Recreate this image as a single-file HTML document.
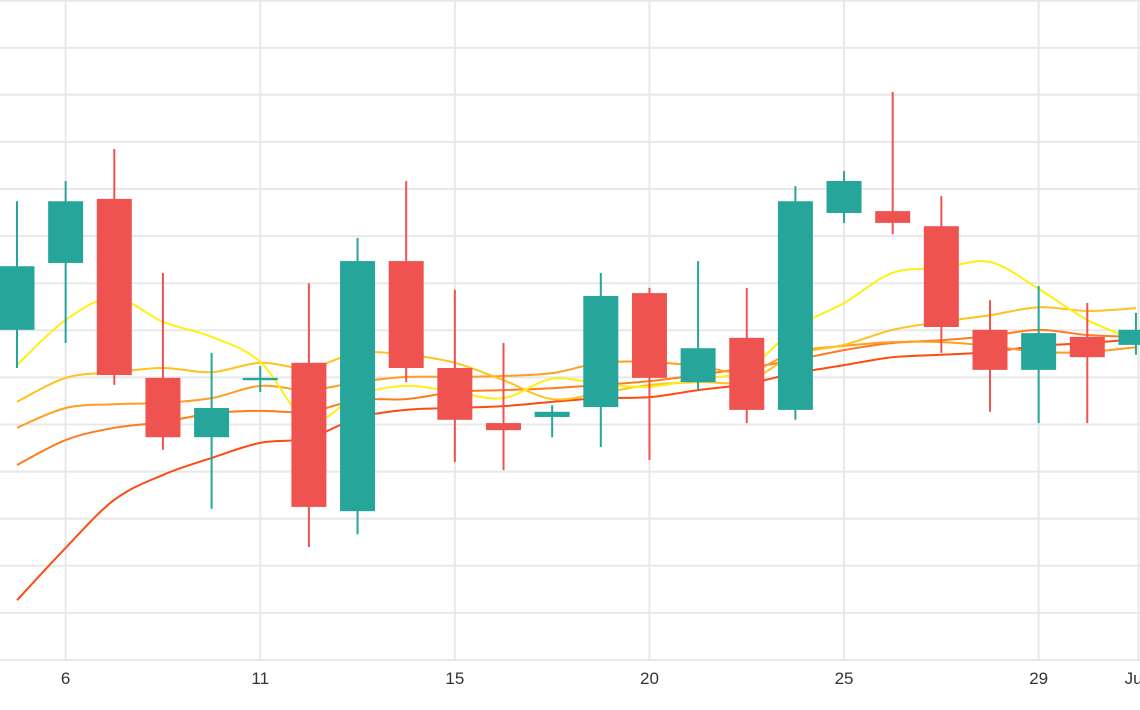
<!DOCTYPE html>
<html><head><meta charset="utf-8"><style>
html,body{margin:0;padding:0;background:#fff;overflow:hidden}
svg{display:block}
text{font-family:"Liberation Sans Narrow","Liberation Sans",sans-serif;font-size:17px;fill:#333}
</style></head><body>
<svg id="chart" width="1140" height="710" viewBox="0 0 1140 710" xmlns="http://www.w3.org/2000/svg">
<g id="grid"></g>
<g id="lines"></g>
<g id="candles"></g>
<g id="xaxis"></g>
</svg>
<script>
const opens  = [70.1,84.3,97.9,59.9,47.3,59.4,63.1,31.6,84.7,62.0,50.3,51.6,53.7,77.9,59.0,68.4,53.1,94.9,95.3,92.1,70.1,61.6,68.6,66.9];
const highs  = [97.4,101.7,108.5,82.2,65.2,62.4,80.0,89.6,101.7,78.6,67.3,54.1,82.2,79.0,84.7,79.0,100.6,103.8,120.6,98.5,76.4,79.4,75.8,73.7];
const lows   = [62.0,67.3,58.4,44.6,32.1,56.9,24.0,26.7,59.0,42.0,40.3,47.3,45.2,42.5,57.3,50.3,51.0,92.8,90.4,65.2,52.7,50.3,50.3,64.8];
const closes = [83.6,97.4,60.5,47.3,53.5,59.9,32.5,84.7,62.0,51.0,48.8,52.7,77.3,59.9,66.2,53.1,97.4,101.7,92.8,70.7,61.6,69.4,64.3,70.1];
const maYellow  = [62.6,72.2,76.9,71.8,68.6,63.3,50.6,56.2,58.2,56.9,55.6,59.7,58.6,58.0,59.7,61.6,70.5,75.8,82.2,83.2,84.5,78.8,72.2,67.9];
const maGold    = [54.8,59.9,61.1,62.0,61.1,63.1,62.0,65.2,64.8,63.1,59.4,55.4,56.7,58.4,59.0,59.2,64.8,66.9,70.1,71.8,73.2,74.9,74.1,74.7];
const maOrange  = [49.3,53.5,54.3,54.6,55.6,58.2,57.3,59.0,60.1,60.1,60.3,60.9,63.1,63.3,62.4,61.1,65.4,66.7,67.5,67.5,66.7,65.4,65.4,66.4];
const maOrange2 = [41.4,46.7,49.3,50.5,52.4,52.9,52.7,55.2,55.4,56.9,57.3,57.7,58.4,59.2,60.5,62.0,63.7,65.8,67.3,67.9,68.8,70.1,69.0,68.6];
const maRed     = [12.7,23.8,34.0,39.3,42.9,46.1,47.1,51.4,53.1,53.5,53.9,54.8,55.6,55.8,57.3,58.6,60.9,62.6,64.3,64.8,65.4,66.7,67.3,68.1];
const yTicks = [0,10,20,30,40,50,60,70,80,90,100,110,120,130,140];
const xTickLabels = ["6","11","15","20","25","29","Jun"];
const xTickIdx = [1,5,9,13,17,21,23.05];

const NS = "http://www.w3.org/2000/svg";
const xs = i => 17 + i*48.65;
const ys = v => 660 - v*4.71;
function mk(tag, attrs, parent){const e=document.createElementNS(NS,tag);for(const k in attrs)e.setAttribute(k,attrs[k]);parent.appendChild(e);return e;}

const grid=document.getElementById('grid');
yTicks.forEach(v=>{
  const l=mk('line',{x1:0,x2:1140,y1:ys(v),y2:ys(v),stroke:'#e8e8e8','stroke-width':2},grid);
  
  
});
const xa=document.getElementById('xaxis');
xTickIdx.forEach((t,k)=>{
  const x=xs(t);
  const l=mk('line',{x1:x,x2:x,y1:0,y2:660,stroke:'#e8e8e8','stroke-width':2},grid);
  
  
  const tx=mk('text',{x:x,y:684,'text-anchor':'middle'},xa);
  tx.textContent=xTickLabels[k];
  
  
});

function smooth(vals){
  const p=vals.map((v,i)=>[xs(i),ys(v)]);
  let d='M'+p[0][0]+','+p[0][1];
  for(let i=0;i<p.length-1;i++){
    const p0=p[Math.max(0,i-1)],p1=p[i],p2=p[i+1],p3=p[Math.min(p.length-1,i+2)];
    const c1=[p1[0]+(p2[0]-p0[0])/6,p1[1]+(p2[1]-p0[1])/6];
    const c2=[p2[0]-(p3[0]-p1[0])/6,p2[1]-(p3[1]-p1[1])/6];
    d+=' C'+c1[0]+','+c1[1]+' '+c2[0]+','+c2[1]+' '+p2[0]+','+p2[1];
  }
  return d;
}
const lg=document.getElementById('lines');
[[maRed,'#ff4a12','ma-line-red'],[maOrange2,'#ff7c1e','ma-line-dark-orange'],[maOrange,'#ff9e22','ma-line-orange'],[maGold,'#ffc21e','ma-line-gold'],[maYellow,'#ffef12','ma-line-yellow']].forEach(s=>{
  const p=mk('path',{d:smooth(s[0]),fill:'none',stroke:s[1],'stroke-width':2},lg);
  
  
});

const cg=document.getElementById('candles');
opens.forEach((o,i)=>{
  const c=closes[i],up=c>=o,col=up?'#26a69a':'#ef5350',x=xs(i);
  const g=mk('g',{},cg);
  
  
  mk('line',{x1:x,x2:x,y1:ys(highs[i]),y2:ys(lows[i]),stroke:col,'stroke-width':2},g);
  const top=ys(Math.max(o,c)),bot=ys(Math.min(o,c));
  mk('rect',{x:x-17.5,y:top,width:35,height:Math.max(2,bot-top),fill:col},g);
});
</script>
</body></html>
